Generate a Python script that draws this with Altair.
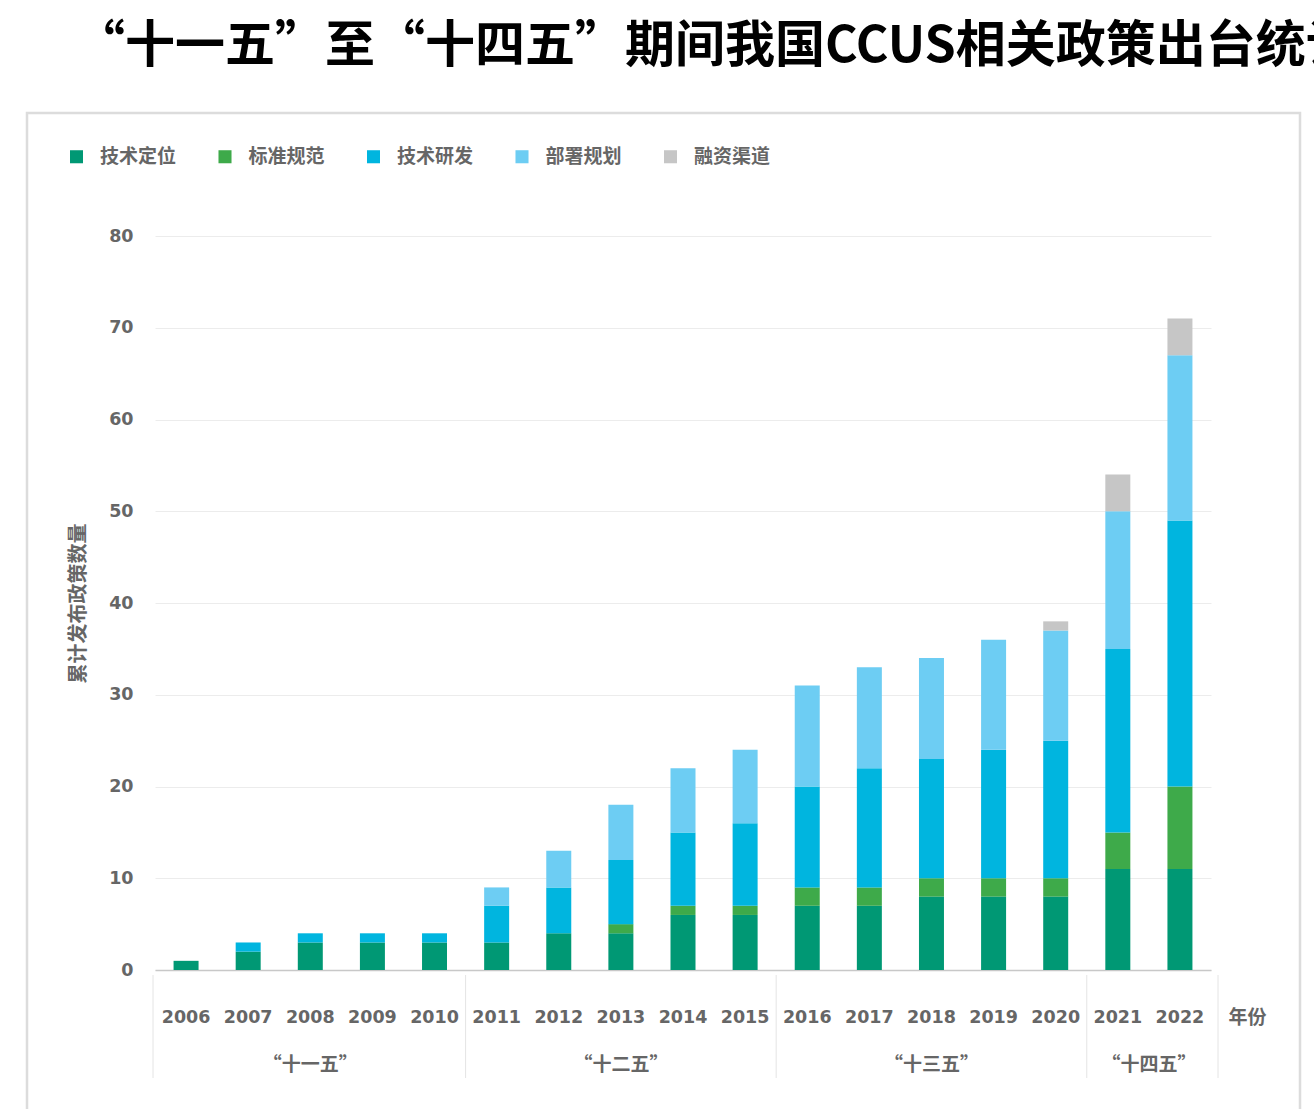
import altair as alt
import pandas as pd

# Cumulative number of CCUS policies released, by policy type
years = ["2006", "2007", "2008", "2009", "2010", "2011", "2012", "2013", "2014",
         "2015", "2016", "2017", "2018", "2019", "2020", "2021", "2022"]
categories = ["技术定位", "标准规范", "技术研发", "部署规划", "融资渠道"]
colors = ["#009874", "#3eaa4a", "#00b5df", "#6dcdf3", "#c6c6c6"]

tech_positioning = [1, 2, 3, 3, 3, 3, 4, 4, 6, 6, 7, 7, 8, 8, 8, 11, 11]
standards = [0, 0, 0, 0, 0, 0, 0, 1, 1, 1, 2, 2, 2, 2, 2, 4, 9]
tech_rnd = [0, 1, 1, 1, 1, 4, 5, 7, 8, 9, 11, 13, 13, 14, 15, 20, 29]
deployment = [0, 0, 0, 0, 0, 2, 4, 6, 7, 8, 11, 11, 11, 12, 12, 15, 18]
financing = [0, 0, 0, 0, 0, 0, 0, 0, 0, 0, 0, 0, 0, 0, 1, 4, 4]

# Five-year plan periods shown under the year axis
periods = ["“十一五”", "“十二五”", "“十三五”", "“十四五”"]
period_mid_years = ["2008", "2013", "2018", "2022"]
period_band_pos = [0.5, 0.5, 0.5, 0.0]
period_starts = ["2011", "2016", "2021"]

title_text = "“十一五”至“十四五”期间我国CCUS相关政策出台统计"

series = [tech_positioning, standards, tech_rnd, deployment, financing]
rows = []
for ci, (cat, vals) in enumerate(zip(categories, series)):
    for yr, v in zip(years, vals):
        if v > 0:
            rows.append({"year": yr, "type": cat, "count": v, "idx": ci})
bars_df = pd.DataFrame(rows)

periods_df = pd.DataFrame({"period": periods, "year": period_mid_years, "pos": period_band_pos})
starts_df = pd.DataFrame({"year": period_starts})
title_df = pd.DataFrame({"t": [title_text]})

W, H = 1065, 734
CJK = "Noto Sans CJK SC"
NUM = "DejaVu Sans"
GREY = "#666666"

x_scale = alt.Scale(domain=years, range=[2, 1058], paddingInner=0, paddingOuter=0)
x_axis = alt.Axis(labelAngle=0, ticks=False, domainColor="#c8c8c8", domainWidth=1.5,
                  labelFont=NUM, labelFontWeight="bold", labelFontSize=17.5,
                  labelColor=GREY, labelPadding=47, labelBaseline="middle",
                  title="年份", titleX=1094, titleY=47, titleAlign="center",
                  titleBaseline="middle", titleFont=CJK, titleFontSize=19,
                  titleFontWeight="bold", titleColor=GREY, grid=False)

bars = alt.Chart(bars_df).mark_bar(size=25).encode(
    x=alt.X("year:O", scale=x_scale, sort=years, axis=x_axis),
    y=alt.Y("count:Q", stack="zero",
            scale=alt.Scale(domain=[0, 80], nice=False),
            axis=alt.Axis(values=list(range(0, 81, 10)), domain=False, ticks=False,
                          gridColor="#ececec", gridWidth=1,
                          labelFont=NUM, labelFontWeight="bold", labelFontSize=17.5,
                          labelColor=GREY, labelPadding=20,
                          title="累计发布政策数量", titleX=-75, titleY=H / 2, titleAngle=-90,
                          titleAlign="center", titleBaseline="middle", titleFont=CJK,
                          titleFontSize=20, titleFontWeight="bold", titleColor=GREY)),
    color=alt.Color("type:N", scale=alt.Scale(domain=categories, range=colors),
                    legend=alt.Legend(orient="none", legendX=-86, legendY=-89,
                                      direction="horizontal", title=None,
                                      symbolType="square", symbolSize=170,
                                      symbolStrokeWidth=0, labelFont=CJK,
                                      labelFontSize=19, labelFontWeight="bold",
                                      labelColor=GREY, labelOffset=14,
                                      columnPadding=38.5)),
    order=alt.Order("idx:Q", sort="ascending"),
)

sep_style = dict(color="#e4e4e4", strokeWidth=1)

# Separator lines between the plan periods, below the axis
inner_seps = alt.Chart(starts_df).mark_rule(**sep_style).encode(
    x=alt.X("year:O", bandPosition=0, scale=x_scale, sort=years, axis=x_axis),
    y=alt.value(H + 5), y2=alt.value(H + 108),
)
left_sep = alt.Chart(title_df).mark_rule(**sep_style).encode(
    x=alt.value(0), y=alt.value(H + 5), y2=alt.value(H + 108))
right_sep = alt.Chart(title_df).mark_rule(**sep_style).encode(
    x=alt.value(W), y=alt.value(H + 5), y2=alt.value(H + 108))

period_style = dict(font=CJK, fontSize=19, fontWeight="bold", color=GREY, baseline="middle")
period_mid = alt.Chart(periods_df).transform_filter("datum.pos > 0").mark_text(**period_style).encode(
    x=alt.X("year:O", bandPosition=0.5, scale=x_scale, sort=years, axis=x_axis),
    y=alt.value(H + 95), text="period:N")
period_edge = alt.Chart(periods_df).transform_filter("datum.pos == 0").mark_text(**period_style).encode(
    x=alt.X("year:O", bandPosition=0, scale=x_scale, sort=years, axis=x_axis),
    y=alt.value(H + 95), text="period:N")

title = alt.Chart(title_df).mark_text(
    align="left", baseline="middle", font=CJK, fontSize=50, fontWeight="bold", color="#000000"
).encode(x=alt.value(-78), y=alt.value(-189), text="t:N")

frame = alt.Chart(title_df).mark_rect(fill=None, stroke="#dcdcdc", strokeWidth=2.5).encode(
    x=alt.value(-126), x2=alt.value(1147), y=alt.value(-123), y2=alt.value(H + 160))

chart = alt.layer(
    frame, bars, inner_seps, left_sep, right_sep, period_mid, period_edge, title
).properties(
    width=W, height=H,
    autosize=alt.AutoSizeParams(type="none"),
    padding={"left": 153, "top": 236, "right": 96, "bottom": 139},
    background="white",
).configure_view(stroke=None)

chart.save("out.html", embed_options={"renderer": "svg", "actions": False})
